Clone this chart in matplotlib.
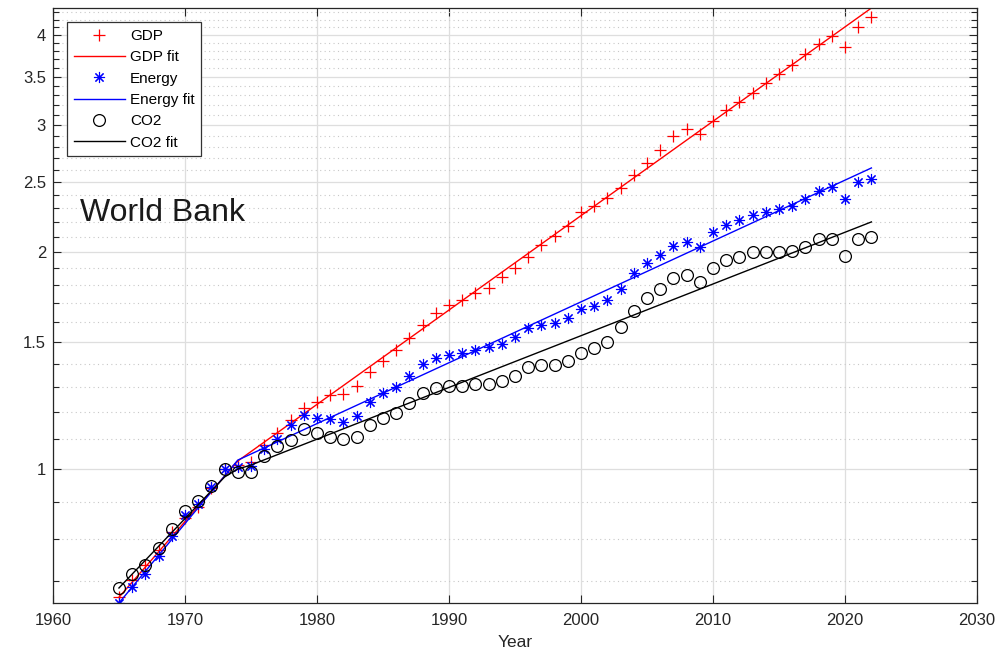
import numpy as np
import matplotlib
matplotlib.use("Agg")
import matplotlib.pyplot as plt
from matplotlib.ticker import FixedLocator, NullFormatter, FixedFormatter

plt.rcParams['font.family'] = ['Liberation Sans', 'DejaVu Sans']

years = list(range(1965, 2023))

gdp = [0.664, 0.701, 0.736, 0.772, 0.818, 0.855, 0.886, 0.941, 1.000, 1.013,
       1.023, 1.080, 1.122, 1.170, 1.215, 1.239, 1.267, 1.271, 1.304, 1.363,
       1.412, 1.462, 1.520, 1.584, 1.646, 1.689, 1.716, 1.755, 1.783, 1.847,
       1.901, 1.969, 2.046, 2.105, 2.174, 2.273, 2.317, 2.377, 2.454, 2.558,
       2.658, 2.771, 2.898, 2.964, 2.916, 3.040, 3.149, 3.230, 3.325, 3.432,
       3.532, 3.636, 3.766, 3.887, 3.988, 3.850, 4.105, 4.238]

energy = [0.652, 0.686, 0.715, 0.757, 0.807, 0.863, 0.894, 0.944, 1.000, 1.006,
          1.010, 1.066, 1.101, 1.151, 1.188, 1.177, 1.173, 1.162, 1.185, 1.239,
          1.275, 1.300, 1.346, 1.399, 1.426, 1.439, 1.449, 1.462, 1.476, 1.491,
          1.524, 1.569, 1.584, 1.594, 1.620, 1.667, 1.683, 1.716, 1.777, 1.870,
          1.931, 1.981, 2.039, 2.065, 2.032, 2.132, 2.181, 2.216, 2.252, 2.273,
          2.295, 2.317, 2.369, 2.431, 2.462, 2.369, 2.502, 2.526]

co2 = [0.684, 0.715, 0.736, 0.777, 0.826, 0.874, 0.903, 0.947, 1.000, 0.990,
       0.990, 1.042, 1.076, 1.097, 1.136, 1.122, 1.108, 1.101, 1.108, 1.151,
       1.177, 1.196, 1.235, 1.275, 1.295, 1.304, 1.304, 1.312, 1.312, 1.325,
       1.346, 1.385, 1.394, 1.394, 1.412, 1.449, 1.472, 1.500, 1.574, 1.656,
       1.727, 1.777, 1.841, 1.859, 1.817, 1.901, 1.950, 1.969, 2.000, 2.000,
       2.000, 2.007, 2.032, 2.085, 2.085, 1.975, 2.085, 2.098]

gdp_fit_years = [1965, 1974, 2022]
gdp_fit = [0.664, 1.026, 4.36]
energy_fit_years = [1965, 1974, 2022]
energy_fit = [0.652, 1.029, 2.616]
co2_fit_years = [1965, 1973, 1974, 1975, 2022]
co2_fit = [0.684, 0.975, 1.000, 1.013, 2.202]

ytick_vals = [1, 1.5, 2, 2.5, 3, 3.5, 4]
ytick_labels = ['1', '1.5', '2', '2.5', '3', '3.5', '4']
xtick_vals = [1960, 1970, 1980, 1990, 2000, 2010, 2020, 2030]

fig = plt.figure(figsize=(9.99, 6.57), dpi=100)
ax = fig.add_axes([0.053, 0.0822, 0.925, 0.9056])

axc = '#262626'
ax.plot(years, gdp, linestyle='none', marker='+', color='red', markersize=8,
        markeredgewidth=0.9, label='GDP')
ax.plot(gdp_fit_years, gdp_fit, color='red', lw=1.0, label='GDP fit')
ax.plot(years, energy, linestyle='none', marker=(8, 2, 0), color='blue',
        markersize=8, markeredgewidth=0.8, label='Energy')
ax.plot(energy_fit_years, energy_fit, color='blue', lw=1.0, label='Energy fit')
ax.plot(years, co2, linestyle='none', marker='o', markerfacecolor='none',
        markeredgecolor='black', markersize=8.5, markeredgewidth=0.9, label='CO2')
ax.plot(co2_fit_years, co2_fit, color='black', lw=1.0, label='CO2 fit')

ax.set_yscale('log')
ax.set_xlim(1960, 2030)
ax.set_ylim(0.652, 4.36)

ax.xaxis.set_major_locator(FixedLocator(xtick_vals))
ax.yaxis.set_major_locator(FixedLocator(ytick_vals))
ax.yaxis.set_major_formatter(FixedFormatter(ytick_labels))
minor = [round(v, 1) for v in np.arange(0.7, 4.35, 0.1) if round(v, 1) not in ytick_vals]
ax.yaxis.set_minor_locator(FixedLocator(minor))
ax.yaxis.set_minor_formatter(NullFormatter())
ax.xaxis.set_minor_locator(FixedLocator([]))

ax.tick_params(axis='both', which='both', direction='in', top=True, right=True,
               colors=axc, labelsize=12)
ax.tick_params(axis='both', which='major', length=6, width=0.8)
ax.tick_params(axis='y', which='minor', length=4, width=0.8)
ax.tick_params(axis='x', which='major', pad=7)
ax.tick_params(axis='y', which='major', pad=5)

for s in ax.spines.values():
    s.set_color(axc)
    s.set_linewidth(0.9)

ax.grid(True, which='major', color='#dedede', lw=0.9, linestyle='-')
ax.grid(True, which='minor', axis='y', color='#c8c8c8', lw=0.8, linestyle=(0, (1, 3)))
ax.set_axisbelow(True)

ax.set_xlabel('Year', fontsize=12.5, color=axc, labelpad=5)

ax.text(0.029, 0.655, 'World Bank', transform=ax.transAxes, fontsize=23,
        color='#1a1a1a', va='center', ha='left')

leg = ax.legend(loc='upper left', bbox_to_anchor=(0.0155, 0.9765), fontsize=11,
                frameon=True, fancybox=False, edgecolor='#333333',
                handlelength=3.3, handletextpad=0.35, labelspacing=0.48,
                borderpad=0.45, borderaxespad=0.0, framealpha=1.0)
leg.get_frame().set_linewidth(0.9)

fig.savefig('out.png', dpi=100)
